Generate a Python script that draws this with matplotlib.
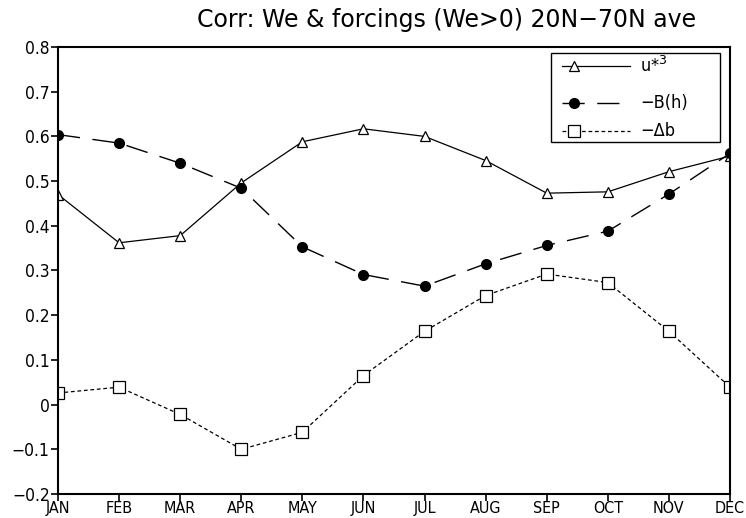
import matplotlib
matplotlib.use("Agg")
import matplotlib.pyplot as plt
from matplotlib.patches import Rectangle
from matplotlib.lines import Line2D
from matplotlib import font_manager

months = ["JAN", "FEB", "MAR", "APR", "MAY", "JUN", "JUL", "AUG", "SEP", "OCT", "NOV", "DEC"]
ustar3 = [0.470, 0.362, 0.378, 0.496, 0.588, 0.617, 0.600, 0.546, 0.473, 0.476, 0.521, 0.556]
minus_Bh = [0.604, 0.585, 0.540, 0.484, 0.353, 0.291, 0.265, 0.315, 0.356, 0.388, 0.471, 0.562]
minus_db = [0.026, 0.039, -0.022, -0.100, -0.062, 0.065, 0.164, 0.244, 0.292, 0.273, 0.164, 0.039]
yticks = [-0.2, -0.1, 0, 0.1, 0.2, 0.3, 0.4, 0.5, 0.6, 0.7, 0.8]
ytick_labels = ["\u22120.2", "\u22120.1", "0", "0.1", "0.2", "0.3", "0.4", "0.5", "0.6", "0.7", "0.8"]
series_labels = ["u*$^{3}$", "\u2212B(h)", "\u2212\u0394b"]

names = {f.name for f in font_manager.fontManager.ttflist}
narrow = "Liberation Sans Narrow" if "Liberation Sans Narrow" in names else "DejaVu Sans"

fig = plt.figure(figsize=(7.46, 5.18), dpi=100)
ax = fig.add_axes([58/746, 24/518, 672/746, 447/518])

x = list(range(len(months)))
ax.plot(x, ustar3, color="black", lw=0.9, marker="^", ms=7, mfc="white", mec="black", mew=0.9)
ax.plot(x, minus_Bh, color="black", lw=1.0, marker="o", ms=7, mfc="black", mec="black",
        dashes=(16, 9))
ax.plot(x, minus_db, color="black", lw=0.9, marker="s", ms=8, mfc="white", mec="black", mew=0.9,
        dashes=(3, 2.2))

ax.set_xlim(0, 11)
ax.set_ylim(-0.2, 0.8)
ax.set_xticks(x)
ax.set_xticklabels(months, fontfamily=narrow, fontstretch="condensed", fontsize=11.5)
ax.set_yticks(yticks)
ax.set_yticklabels(ytick_labels, fontfamily=narrow, fontstretch="condensed", fontsize=12.5)
ax.tick_params(direction="out", length=5, width=1.2, pad=1)
ax.tick_params(axis="x", pad=0)
for s in ax.spines.values():
    s.set_linewidth(1.5)

fig.text(447/746, 1 - 20/518, "Corr: We & forcings (We>0) 20N\u221270N ave", fontsize=17,
         ha="center", va="center", fontfamily="DejaVu Sans", color="black")

# legend drawn manually
box = Rectangle((0.734, 0.788), 0.251, 0.198, transform=ax.transAxes, fill=False,
                ec="black", lw=1.0, zorder=5)
ax.add_patch(box)
rows = [0.957, 0.874, 0.811]
line_styles = [dict(lw=0.9), dict(lw=1.0, dashes=(16, 9)), dict(lw=0.9, dashes=(3, 2.2))]
marker_styles = [
    dict(marker="^", ms=7, mfc="white", mec="black", mew=0.9),
    dict(marker="o", ms=7, mfc="black", mec="black", mew=1.0),
    dict(marker="s", ms=8, mfc="white", mec="black", mew=0.9),
]
for yy, ls, ms, lab in zip(rows, line_styles, marker_styles, series_labels):
    ax.add_line(Line2D([0.750, 0.851], [yy, yy], transform=ax.transAxes, color="black", **ls))
    ax.add_line(Line2D([0.768], [yy], transform=ax.transAxes, color="black", linestyle="none", **ms))
    ax.text(0.866, yy, lab, transform=ax.transAxes, fontsize=13, va="center", ha="left",
            fontfamily="DejaVu Sans", fontstretch="condensed")

fig.savefig("out.png", dpi=100)
